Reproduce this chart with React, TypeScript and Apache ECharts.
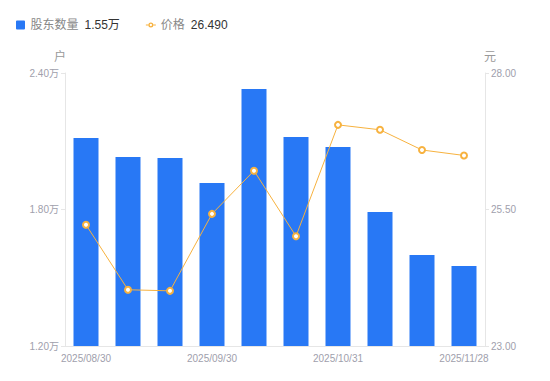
import React, { useEffect, useRef } from "react";
import * as echarts from "echarts";

const categories = [
  "2025/08/30", "2025/09/10", "2025/09/20", "2025/09/30", "2025/10/10",
  "2025/10/20", "2025/10/31", "2025/11/10", "2025/11/20", "2025/11/28",
];
const holders = [2.114, 2.031, 2.026, 1.917, 2.33, 2.119, 2.075, 1.789, 1.6, 1.552];
const prices = [25.22, 24.03, 24.01, 25.42, 26.21, 25.01, 27.05, 26.96, 26.59, 26.49];
const leftTicks = { min: 1.2, max: 2.4, interval: 0.6 };
const rightTicks = { min: 23, max: 28, interval: 2.5 };

const lineIcon =
  "path://M0 2.4H3.2V3.6H0Z M8.8 2.4H12V3.6H8.8Z " +
  "M3 3A3 3 0 1 0 9 3A3 3 0 1 0 3 3Z " +
  "M4.6 3A1.4 1.4 0 1 1 7.4 3A1.4 1.4 0 1 1 4.6 3Z";

export default function App() {
  const ref = useRef<HTMLDivElement>(null);
  useEffect(() => {
    const chart = echarts.init(ref.current!, null, { renderer: "svg" });
    const font = "'Liberation Sans', 'Noto Sans CJK SC', sans-serif";
    chart.setOption({
      animation: false,
      textStyle: { fontFamily: font },
      legend: {
        left: 11,
        top: 14,
        itemGap: 26,
        itemWidth: 10,
        itemHeight: 9,
        textStyle: { fontSize: 12, fontFamily: font, rich: {
          n: { color: "#888", fontSize: 12, fontFamily: font },
          v: { color: "#333", fontSize: 12, fontFamily: font, padding: [0, 0, 0, 6] },
        } },
        formatter: (name: string) =>
          name === "股东数量"
            ? `{n|${name}}{v|${holders[holders.length - 1].toFixed(2)}万}`
            : `{n|${name}}{v|${prices[prices.length - 1].toFixed(3)}}`,
        data: [
          { name: "股东数量", icon: "path://M1 0h7a1 1 0 0 1 1 1v7a1 1 0 0 1 -1 1h-7a1 1 0 0 1 -1 -1v-7a1 1 0 0 1 1 -1z" },
          { name: "价格", icon: lineIcon, itemStyle: { color: "#f7b23f", borderWidth: 0 } },
        ],
      },
      grid: { left: 65, right: 65, top: 73, bottom: 35, containLabel: false },
      xAxis: {
        type: "category",
        data: categories,
        axisLine: { lineStyle: { color: "#e6e6e6" } },
        axisTick: { show: false },
        axisLabel: {
          interval: 2,
          color: "#a0a0ac",
          fontSize: 10,
          margin: 7,
        },
      },
      yAxis: [
        {
          type: "value",
          name: "户",
          nameTextStyle: { color: "#999", fontSize: 12, padding: [0, 0, 0, -10] },
          nameGap: 10,
          min: leftTicks.min,
          max: leftTicks.max,
          interval: leftTicks.interval,
          axisLine: { show: true, lineStyle: { color: "#e6e6e6" } },
          axisTick: { show: true, length: 4, lineStyle: { color: "#e6e6e6" } },
          splitLine: { show: false },
          axisLabel: { color: "#a0a0ac", fontSize: 10, margin: 6, formatter: (v: number) => v.toFixed(2) + "万" },
        },
        {
          type: "value",
          name: "元",
          nameTextStyle: { color: "#999", fontSize: 12, padding: [0, 0, 0, 10] },
          nameGap: 10,
          min: rightTicks.min,
          max: rightTicks.max,
          interval: rightTicks.interval,
          axisLine: { show: true, lineStyle: { color: "#e6e6e6" } },
          axisTick: { show: true, length: 4, lineStyle: { color: "#e6e6e6" } },
          splitLine: { show: false },
          axisLabel: { color: "#a0a0ac", fontSize: 10, margin: 6, formatter: (v: number) => v.toFixed(2) },
        },
      ],
      series: [
        {
          name: "股东数量",
          type: "bar",
          yAxisIndex: 0,
          data: holders,
          barWidth: 25,
          itemStyle: { color: "#2878f5" },
        },
        {
          name: "价格",
          type: "line",
          yAxisIndex: 1,
          data: prices,
          symbol: "emptyCircle",
          symbolSize: 6,
          lineStyle: { color: "#f7b23f", width: 1 },
          itemStyle: { color: "#f7b23f", borderWidth: 2 },
        },
      ],
    });
    return () => chart.dispose();
  }, []);
  return <div ref={ref} style={{ width: 550, height: 381, margin: -8 }} />;
}
